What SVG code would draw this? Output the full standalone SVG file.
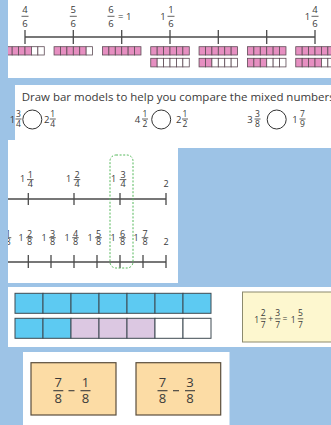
<svg xmlns="http://www.w3.org/2000/svg" width="331" height="425" viewBox="0 0 331 425">
<defs>
<style>
text{font-family:"Open Sans","Liberation Sans",sans-serif;fill:#3a3a3a;text-anchor:middle}
.f1{font-size:9.5px}
.f2{font-size:8.5px}
.w2{font-size:9.5px}
.f3{font-size:9px}
.f4{font-size:8.5px}
.f5{font-size:13px}
.bar{stroke:#3a3a3a;stroke-width:0.8}
.nl{stroke:#4a4a4a;stroke-width:1.3;fill:none}
.pk{fill:#e68fc1;stroke:#5e4b55;stroke-width:0.8}
.wc{fill:#fff;stroke:#5e4b55;stroke-width:0.8}
.bl{fill:#5dcaf2;stroke:#3f4a52;stroke-width:1}
.li{fill:#dcc8e2;stroke:#3f4a52;stroke-width:1}
.wh{fill:#fff;stroke:#3f4a52;stroke-width:1}
.panel{fill:#fff}
</style>
<clipPath id="c1"><rect x="8" y="0" width="323" height="78"/></clipPath>
<clipPath id="c3"><rect x="8" y="140" width="170" height="143"/></clipPath>
</defs>
<rect width="331" height="425" fill="#9dc3e6"/>

<g id="panel-numberline-sixths" clip-path="url(#c1)">
<rect class="panel" x="8" y="0" width="323" height="78"/>
<g class="nl">
<line x1="25" y1="37" x2="315" y2="37"/>
<line x1="25" y1="30" x2="25" y2="44"/>
<line x1="73.3" y1="30" x2="73.3" y2="44"/>
<line x1="121.7" y1="30" x2="121.7" y2="44"/>
<line x1="170" y1="30" x2="170" y2="44"/>
<line x1="218.3" y1="30" x2="218.3" y2="44"/>
<line x1="266.7" y1="30" x2="266.7" y2="44"/>
<line x1="315" y1="30" x2="315" y2="44"/>
</g>
<g class="f1">
<text x="25" y="13.3">4</text><line class="bar" x1="21.5" y1="16.3" x2="28.5" y2="16.3"/><text x="25" y="26.5">6</text>
<text x="73.3" y="13.3">5</text><line class="bar" x1="69.8" y1="16.3" x2="76.8" y2="16.3"/><text x="73.3" y="26.5">6</text>
<text x="111" y="13.3">6</text><line class="bar" x1="107.5" y1="16.3" x2="114.5" y2="16.3"/><text x="111" y="26.5">6</text>
<text x="118" y="19.5" style="text-anchor:start">= 1</text>
<text x="163" y="19.5">1</text>
<text x="171" y="13.3">1</text><line class="bar" x1="167.5" y1="16.3" x2="174.5" y2="16.3"/><text x="171" y="26.5">6</text>
<text x="307.5" y="19.5">1</text>
<text x="315" y="13.3">4</text><line class="bar" x1="311.5" y1="16.3" x2="318.5" y2="16.3"/><text x="315" y="26.5">6</text>
</g>
<g id="bars-sixths">
<g transform="translate(5.75,46.7)">
<rect class="pk" x="0" y="0" width="6.42" height="8.3"/><rect class="pk" x="6.42" y="0" width="6.42" height="8.3"/><rect class="pk" x="12.84" y="0" width="6.42" height="8.3"/><rect class="pk" x="19.26" y="0" width="6.42" height="8.3"/><rect class="wc" x="25.68" y="0" width="6.42" height="8.3"/><rect class="wc" x="32.1" y="0" width="6.42" height="8.3"/>
</g>
<g transform="translate(54.05,46.7)">
<rect class="pk" x="0" y="0" width="6.42" height="8.3"/><rect class="pk" x="6.42" y="0" width="6.42" height="8.3"/><rect class="pk" x="12.84" y="0" width="6.42" height="8.3"/><rect class="pk" x="19.26" y="0" width="6.42" height="8.3"/><rect class="pk" x="25.68" y="0" width="6.42" height="8.3"/><rect class="wc" x="32.1" y="0" width="6.42" height="8.3"/>
</g>
<g transform="translate(102.45,46.7)">
<rect class="pk" x="0" y="0" width="6.42" height="8.3"/><rect class="pk" x="6.42" y="0" width="6.42" height="8.3"/><rect class="pk" x="12.84" y="0" width="6.42" height="8.3"/><rect class="pk" x="19.26" y="0" width="6.42" height="8.3"/><rect class="pk" x="25.68" y="0" width="6.42" height="8.3"/><rect class="pk" x="32.1" y="0" width="6.42" height="8.3"/>
</g>
<g transform="translate(150.75,46.7)">
<rect class="pk" x="0" y="0" width="6.42" height="8.3"/><rect class="pk" x="6.42" y="0" width="6.42" height="8.3"/><rect class="pk" x="12.84" y="0" width="6.42" height="8.3"/><rect class="pk" x="19.26" y="0" width="6.42" height="8.3"/><rect class="pk" x="25.68" y="0" width="6.42" height="8.3"/><rect class="pk" x="32.1" y="0" width="6.42" height="8.3"/>
<rect class="pk" x="0" y="11.6" width="6.42" height="8.6"/><rect class="wc" x="6.42" y="11.6" width="6.42" height="8.6"/><rect class="wc" x="12.84" y="11.6" width="6.42" height="8.6"/><rect class="wc" x="19.26" y="11.6" width="6.42" height="8.6"/><rect class="wc" x="25.68" y="11.6" width="6.42" height="8.6"/><rect class="wc" x="32.1" y="11.6" width="6.42" height="8.6"/>
</g>
<g transform="translate(199.05,46.7)">
<rect class="pk" x="0" y="0" width="6.42" height="8.3"/><rect class="pk" x="6.42" y="0" width="6.42" height="8.3"/><rect class="pk" x="12.84" y="0" width="6.42" height="8.3"/><rect class="pk" x="19.26" y="0" width="6.42" height="8.3"/><rect class="pk" x="25.68" y="0" width="6.42" height="8.3"/><rect class="pk" x="32.1" y="0" width="6.42" height="8.3"/>
<rect class="pk" x="0" y="11.6" width="6.42" height="8.6"/><rect class="pk" x="6.42" y="11.6" width="6.42" height="8.6"/><rect class="wc" x="12.84" y="11.6" width="6.42" height="8.6"/><rect class="wc" x="19.26" y="11.6" width="6.42" height="8.6"/><rect class="wc" x="25.68" y="11.6" width="6.42" height="8.6"/><rect class="wc" x="32.1" y="11.6" width="6.42" height="8.6"/>
</g>
<g transform="translate(247.45,46.7)">
<rect class="pk" x="0" y="0" width="6.42" height="8.3"/><rect class="pk" x="6.42" y="0" width="6.42" height="8.3"/><rect class="pk" x="12.84" y="0" width="6.42" height="8.3"/><rect class="pk" x="19.26" y="0" width="6.42" height="8.3"/><rect class="pk" x="25.68" y="0" width="6.42" height="8.3"/><rect class="pk" x="32.1" y="0" width="6.42" height="8.3"/>
<rect class="pk" x="0" y="11.6" width="6.42" height="8.6"/><rect class="pk" x="6.42" y="11.6" width="6.42" height="8.6"/><rect class="pk" x="12.84" y="11.6" width="6.42" height="8.6"/><rect class="wc" x="19.26" y="11.6" width="6.42" height="8.6"/><rect class="wc" x="25.68" y="11.6" width="6.42" height="8.6"/><rect class="wc" x="32.1" y="11.6" width="6.42" height="8.6"/>
</g>
<g transform="translate(295.75,46.7)">
<rect class="pk" x="0" y="0" width="6.42" height="8.3"/><rect class="pk" x="6.42" y="0" width="6.42" height="8.3"/><rect class="pk" x="12.84" y="0" width="6.42" height="8.3"/><rect class="pk" x="19.26" y="0" width="6.42" height="8.3"/><rect class="pk" x="25.68" y="0" width="6.42" height="8.3"/><rect class="pk" x="32.1" y="0" width="6.42" height="8.3"/>
<rect class="pk" x="0" y="11.6" width="6.42" height="8.6"/><rect class="pk" x="6.42" y="11.6" width="6.42" height="8.6"/><rect class="pk" x="12.84" y="11.6" width="6.42" height="8.6"/><rect class="pk" x="19.26" y="11.6" width="6.42" height="8.6"/><rect class="wc" x="25.68" y="11.6" width="6.42" height="8.6"/><rect class="wc" x="32.1" y="11.6" width="6.42" height="8.6"/>
</g>
</g>
</g>

<g id="panel-compare">
<rect class="panel" x="15" y="85" width="316" height="63"/>
<text x="21.7" y="100.7" style="text-anchor:start;font-size:10px" textLength="313" lengthAdjust="spacingAndGlyphs">Draw bar models to help you compare the mixed numbers</text>
<g fill="none" stroke="#333" stroke-width="1">
<circle cx="32.3" cy="119.5" r="9.5"/>
<circle cx="161.2" cy="119.5" r="9.5"/>
<circle cx="276.7" cy="119.5" r="9.5"/>
</g>
<g class="f2">
<text class="w2" x="12.5" y="122.7">1</text>
<text x="18.5" y="116.5">3</text><line class="bar" x1="15.5" y1="119" x2="21.5" y2="119"/><text x="18.5" y="126.7">4</text>
<text class="w2" x="46.7" y="122.7">2</text>
<text x="52.8" y="116.5">1</text><line class="bar" x1="49.8" y1="119" x2="55.8" y2="119"/><text x="52.8" y="126.7">4</text>
<text class="w2" x="137.5" y="122.7">4</text>
<text x="145" y="116.5">1</text><line class="bar" x1="142" y1="119" x2="148" y2="119"/><text x="145" y="126.7">2</text>
<text class="w2" x="178.7" y="122.7">2</text>
<text x="185" y="116.5">1</text><line class="bar" x1="182" y1="119" x2="188" y2="119"/><text x="185" y="126.7">2</text>
<text class="w2" x="250" y="122.7">3</text>
<text x="257.5" y="116.5">3</text><line class="bar" x1="254.5" y1="119" x2="260.5" y2="119"/><text x="257.5" y="126.7">8</text>
<text class="w2" x="295" y="122.7">1</text>
<text x="302.5" y="116.5">7</text><line class="bar" x1="299.5" y1="119" x2="305.5" y2="119"/><text x="302.5" y="126.7">9</text>
</g>
</g>

<g id="panel-numberlines" clip-path="url(#c3)">
<rect class="panel" x="8" y="140" width="170" height="143"/>
<g class="nl">
<line x1="8" y1="199" x2="166" y2="199"/>
<line x1="28.3" y1="193" x2="28.3" y2="205"/>
<line x1="74" y1="193" x2="74" y2="205"/>
<line x1="120" y1="193" x2="120" y2="205"/>
<line x1="166" y1="193" x2="166" y2="205"/>
<line x1="8" y1="262" x2="166" y2="262"/>
<line x1="28.3" y1="255" x2="28.3" y2="268"/>
<line x1="51" y1="255" x2="51" y2="268"/>
<line x1="74" y1="255" x2="74" y2="268"/>
<line x1="97" y1="255" x2="97" y2="268"/>
<line x1="120" y1="255" x2="120" y2="268"/>
<line x1="143" y1="255" x2="143" y2="268"/>
<line x1="166" y1="255" x2="166" y2="268"/>
</g>
<g class="f3">
<text x="22.5" y="181.5">1</text><text x="30.3" y="178.3">1</text><line class="bar" x1="27" y1="179.6" x2="33.6" y2="179.6"/><text x="30.3" y="187.3">4</text>
<text x="68.5" y="181.5">1</text><text x="77" y="178.3">2</text><line class="bar" x1="73.7" y1="179.6" x2="80.3" y2="179.6"/><text x="77" y="187.3">4</text>
<text x="113.5" y="181.5">1</text><text x="123" y="178.3">3</text><line class="bar" x1="119.7" y1="179.6" x2="126.3" y2="179.6"/><text x="123" y="187.3">4</text>
<text x="166" y="186.7">2</text>

<text x="8" y="236.5">1</text><line class="bar" x1="4.7" y1="237.7" x2="11.3" y2="237.7"/><text x="8" y="245.3">8</text>
<text x="21" y="240.5">1</text><text x="29.5" y="236.5">2</text><line class="bar" x1="26.2" y1="237.7" x2="32.8" y2="237.7"/><text x="29.5" y="245.3">8</text>
<text x="44" y="240.5">1</text><text x="52.5" y="236.5">3</text><line class="bar" x1="49.2" y1="237.7" x2="55.8" y2="237.7"/><text x="52.5" y="245.3">8</text>
<text x="67" y="240.5">1</text><text x="75.5" y="236.5">4</text><line class="bar" x1="72.2" y1="237.7" x2="78.8" y2="237.7"/><text x="75.5" y="245.3">8</text>
<text x="90" y="240.5">1</text><text x="98.5" y="236.5">5</text><line class="bar" x1="95.2" y1="237.7" x2="101.8" y2="237.7"/><text x="98.5" y="245.3">8</text>
<text x="113" y="240.5">1</text><text x="122.5" y="236.5">6</text><line class="bar" x1="119.2" y1="237.7" x2="125.8" y2="237.7"/><text x="122.5" y="245.3">8</text>
<text x="136" y="240.5">1</text><text x="145" y="236.5">7</text><line class="bar" x1="141.7" y1="237.7" x2="148.3" y2="237.7"/><text x="145" y="245.3">8</text>
<text x="166" y="245.3">2</text>
</g>
<rect x="110" y="155" width="23" height="113" rx="6" fill="none" stroke="#55b85a" stroke-width="1" stroke-dasharray="2 1.6"/>
</g>

<g id="panel-sevenths">
<rect class="panel" x="8" y="287" width="323" height="60"/>
<g id="bar-top">
<rect class="bl" x="15" y="293.3" width="28" height="20"/><rect class="bl" x="43" y="293.3" width="28" height="20"/><rect class="bl" x="71" y="293.3" width="28" height="20"/><rect class="bl" x="99" y="293.3" width="28" height="20"/><rect class="bl" x="127" y="293.3" width="28" height="20"/><rect class="bl" x="155" y="293.3" width="28" height="20"/><rect class="bl" x="183" y="293.3" width="28" height="20"/>
</g>
<g id="bar-bottom">
<rect class="bl" x="15" y="318.3" width="28" height="20"/><rect class="bl" x="43" y="318.3" width="28" height="20"/><rect class="li" x="71" y="318.3" width="28" height="20"/><rect class="li" x="99" y="318.3" width="28" height="20"/><rect class="li" x="127" y="318.3" width="28" height="20"/><rect class="wh" x="155" y="318.3" width="28" height="20"/><rect class="wh" x="183" y="318.3" width="28" height="20"/>
</g>
<g id="sum-box">
<rect x="242.5" y="292" width="95" height="50" fill="#fdf7cf" stroke="#8c8a6e" stroke-width="1"/>
<g class="f4">
<text x="256.7" y="322.5">1</text>
<text x="263.3" y="316.3">2</text><line class="bar" x1="260.5" y1="318.8" x2="266.1" y2="318.8"/><text x="263.3" y="327.5">7</text>
<text x="270.7" y="321.5">+</text>
<text x="277.7" y="316.3">3</text><line class="bar" x1="274.9" y1="318.8" x2="280.5" y2="318.8"/><text x="277.7" y="327.5">7</text>
<text x="285" y="321.5">=</text>
<text x="293.3" y="322.5">1</text>
<text x="300.5" y="316.3">5</text><line class="bar" x1="297.7" y1="318.8" x2="303.3" y2="318.8"/><text x="300.5" y="327.5">7</text>
</g>
</g>
</g>

<g id="panel-subtraction">
<rect class="panel" x="23" y="352" width="206.5" height="73"/>
<g id="box-7-8-minus-1-8">
<rect x="31" y="362.7" width="85" height="52.3" fill="#fcdca5" stroke="#5a4e3c" stroke-width="1.2"/>
<g class="f5">
<text x="58.3" y="386.7">7</text><line class="bar" x1="53.3" y1="390.7" x2="63.3" y2="390.7" style="stroke-width:1.1"/><text x="58.3" y="403.3">8</text>
<line class="bar" x1="68.5" y1="390.7" x2="74.5" y2="390.7" style="stroke-width:1.1"/>
<text x="85.5" y="386.7">1</text><line class="bar" x1="80.5" y1="390.7" x2="90.5" y2="390.7" style="stroke-width:1.1"/><text x="85.5" y="403.3">8</text>
</g>
</g>
<g id="box-7-8-minus-3-8">
<rect x="136" y="362.7" width="84.7" height="52.3" fill="#fcdca5" stroke="#5a4e3c" stroke-width="1.2"/>
<g class="f5">
<text x="162.5" y="386.7">7</text><line class="bar" x1="157.5" y1="390.7" x2="167.5" y2="390.7" style="stroke-width:1.1"/><text x="162.5" y="403.3">8</text>
<line class="bar" x1="173" y1="390.7" x2="179" y2="390.7" style="stroke-width:1.1"/>
<text x="190" y="386.7">3</text><line class="bar" x1="185" y1="390.7" x2="195" y2="390.7" style="stroke-width:1.1"/><text x="190" y="403.3">8</text>
</g>
</g>
</g>
</svg>
